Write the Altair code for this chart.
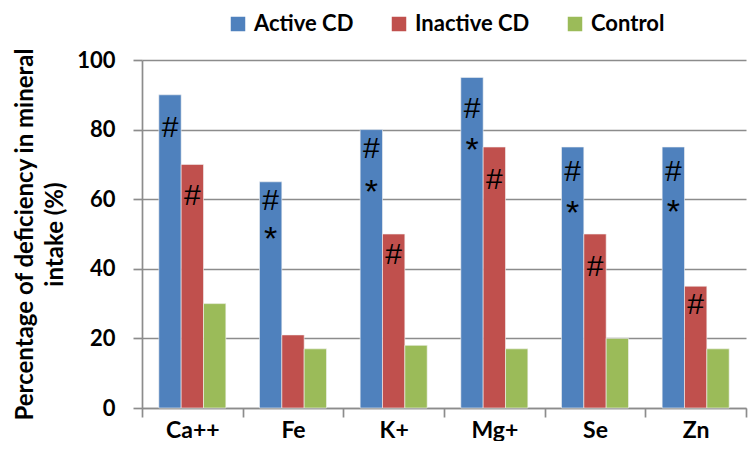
import altair as alt
import pandas as pd

categories = ["Ca++", "Fe", "K+", "Mg+", "Se", "Zn"]
series = ["Active CD", "Inactive CD", "Control"]
active = [90, 65, 80, 95, 75, 75]
inactive = [70, 21, 50, 75, 50, 35]
control = [30, 17, 18, 17, 20, 17]
colors = ["#4F81BD", "#C0504D", "#9BBB59"]

# annotation marks (# and *) on bars
ann_cat = ["Ca++", "Ca++", "Fe", "Fe", "K+", "K+", "K+", "Mg+", "Mg+", "Mg+", "Se", "Se", "Se", "Zn", "Zn", "Zn"]
ann_ser = ["Active CD", "Inactive CD", "Active CD", "Active CD", "Active CD", "Active CD", "Inactive CD",
           "Active CD", "Active CD", "Inactive CD", "Active CD", "Active CD", "Inactive CD",
           "Active CD", "Active CD", "Inactive CD"]
ann_sym = ["#", "#", "#", "*", "#", "*", "#", "#", "*", "#", "#", "*", "#", "#", "*", "#"]
ann_val = [80.6, 61, 59.6, 50.8, 74.4, 64.4, 44, 85.8, 76.4, 65.6, 67.7, 58.2, 40.6, 67.9, 58.7, 29.7]

rows = []
for i, c in enumerate(categories):
    for s, vals in zip(series, [active, inactive, control]):
        rows.append({"Mineral": c, "Group": s, "Value": vals[i]})
df = pd.DataFrame(rows)
ann = pd.DataFrame({"Mineral": ann_cat, "Group": ann_ser, "Sym": ann_sym, "Value": ann_val})

FONT = "Lato"
GRAY = "#8c8c8c"
x_enc = alt.X("Mineral:N", sort=categories, title=None,
              scale=alt.Scale(paddingInner=0, paddingOuter=0),
              axis=alt.Axis(labelAngle=0, labelFont=FONT, labelFontSize=23, labelFontWeight="bold",
                            labelColor="black", labelPadding=2, tickBand="extent", tickSize=9,
                            tickColor=GRAY, tickWidth=1.7, domainColor=GRAY, domainWidth=1.7,
                            grid=False))
xo_enc = alt.XOffset("Group:N", sort=series,
                     scale=alt.Scale(domain=series, paddingOuter=0.753, paddingInner=0))
y_enc = alt.Y("Value:Q", title=["Percentage of deficiency in mineral", "intake (%)"],
              scale=alt.Scale(domain=[0, 100]),
              axis=alt.Axis(values=[0, 20, 40, 60, 80, 100], labelFont=FONT, labelFontSize=22,
                            labelFontWeight="bold", labelColor="black", labelPadding=18, tickSize=9,
                            tickColor=GRAY, tickWidth=1.7, domainColor=GRAY, domainWidth=1.7,
                            gridColor=GRAY, gridWidth=1.7, titleFont=FONT, titleFontSize=24,
                            titleFontWeight="bold", titleColor="black", titlePadding=9,
                            titleLineHeight=30))

bars = alt.Chart(df).mark_bar(stroke="#f4f4f4", strokeWidth=0.6).encode(
    x=x_enc, xOffset=xo_enc, y=y_enc,
    color=alt.Color("Group:N", sort=series, scale=alt.Scale(domain=series, range=colors),
                    legend=alt.Legend(title=None, orient="none", direction="horizontal",
                                      legendX=85, legendY=-47, symbolType="square", symbolSize=210,
                                      symbolStrokeWidth=0, labelFont=FONT, labelFontSize=22,
                                      labelFontWeight="bold", labelColor="black", columnPadding=34,
                                      labelOffset=5))
)

hashes = alt.Chart(ann).transform_filter(alt.datum.Sym == "#").mark_text(
    font="Liberation Sans", fontSize=30, color="black", baseline="middle").encode(
    x=alt.X("Mineral:N", sort=categories), xOffset=alt.XOffset("Group:N", sort=series),
    y="Value:Q", text="Sym:N"
)
stars = alt.Chart(ann).transform_filter(alt.datum.Sym == "*").mark_text(
    font="Liberation Sans", fontSize=34, color="black", baseline="middle", dy=9).encode(
    x=alt.X("Mineral:N", sort=categories), xOffset=alt.XOffset("Group:N", sort=series),
    y="Value:Q", text="Sym:N"
)

chart = alt.layer(bars, hashes, stars).properties(
    width=604, height=348,
    autosize=alt.AutoSizeParams(type="none"),
    padding={"left": 134, "top": 52, "right": 2, "bottom": 33}
).configure_view(strokeWidth=0)
chart.save("out.html", embed_options={"renderer": "svg", "actions": False})
